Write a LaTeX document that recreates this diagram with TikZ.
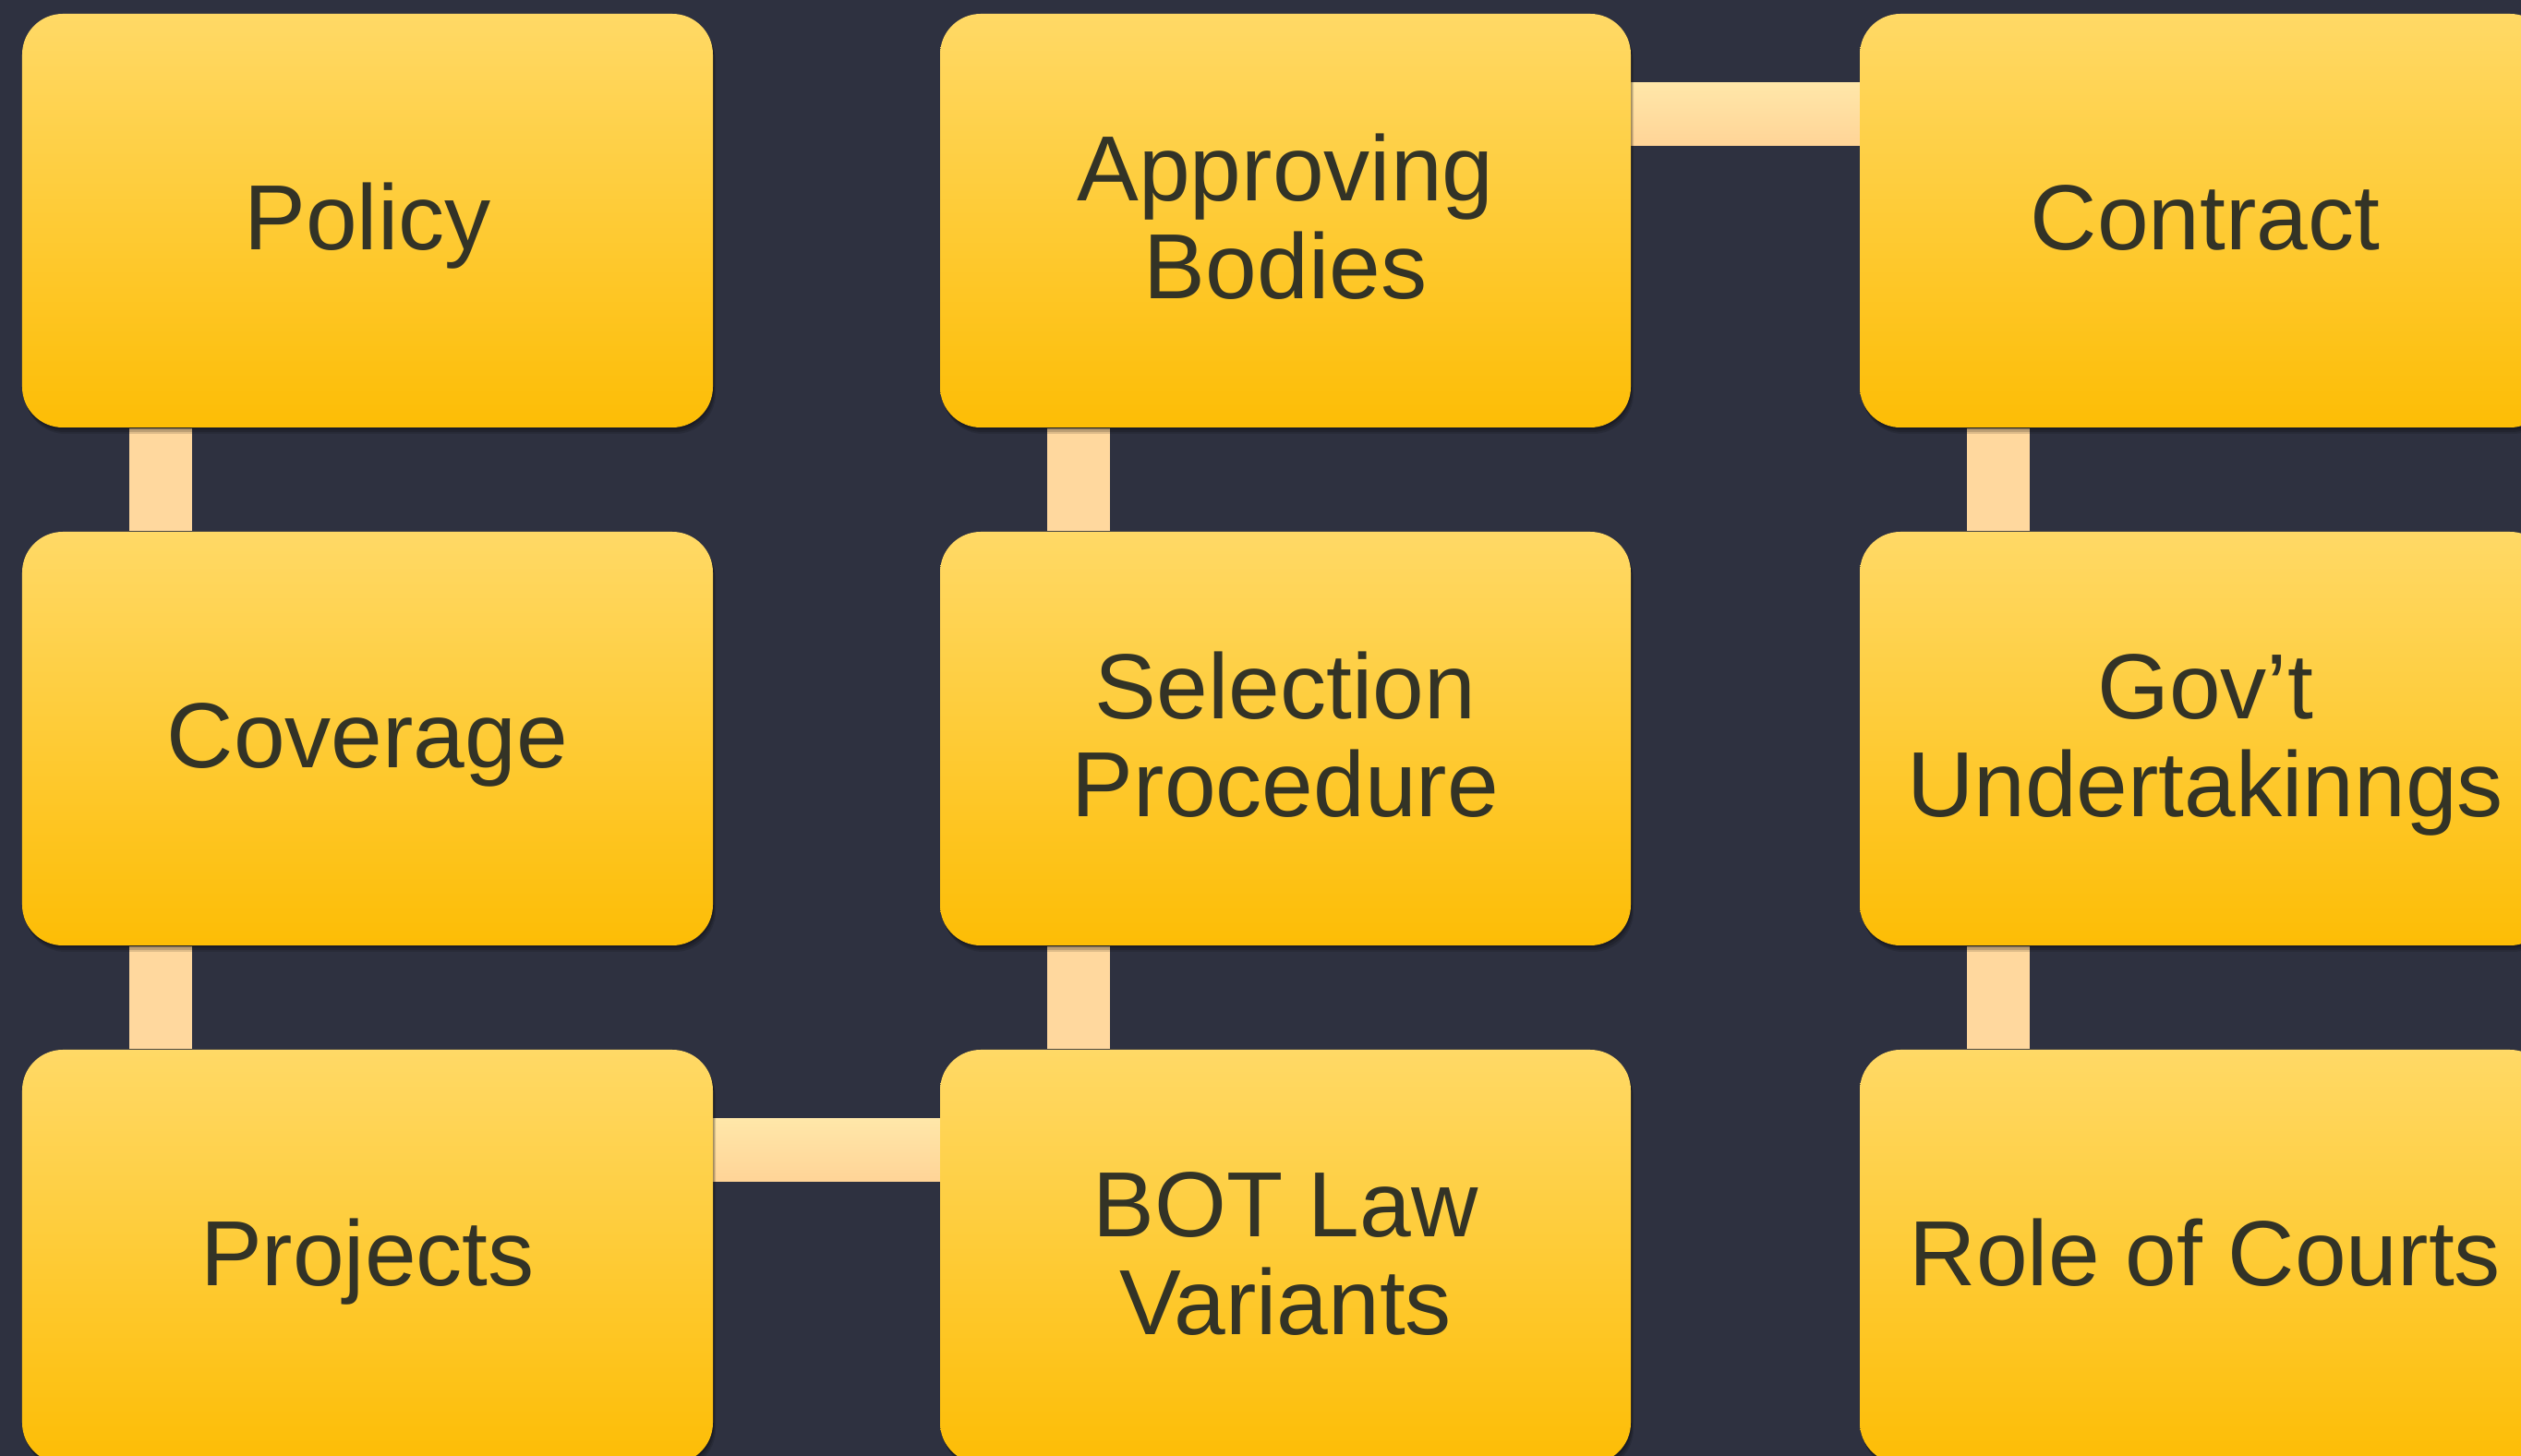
\documentclass[tikz,border=0pt]{standalone}
\usepackage{fontspec}
\setmainfont{Liberation Sans}
\usetikzlibrary{shadows,calc}
\pgfdeclarelayer{bg}
\pgfdeclarelayer{conn}
\pgfsetlayers{bg,conn,main}
\definecolor{bgc}{HTML}{2E3140}
\definecolor{boxtop}{HTML}{FFD966}
\definecolor{boxbot}{HTML}{FDBD05}
\definecolor{txt}{HTML}{333326}
\definecolor{connv}{HTML}{FFD89E}
\definecolor{conntop}{HTML}{FFE7A9}
\definecolor{connbot}{HTML}{FFD497}
\newcommand{\ls}{\vrule height 24pt depth 6pt width 0pt}
\begin{document}
\begin{tikzpicture}[
  box/.style={rectangle, rounded corners=0.44cm, minimum width=7.48cm, minimum height=4.48cm,
    inner sep=0pt, top color=boxtop, bottom color=boxbot, text=txt, align=center,
    font=\fontsize{28.5}{30}\selectfont,
    drop shadow={shadow xshift=0.03cm, shadow yshift=-0.07cm, opacity=0.12, fill=black},
    drop shadow={shadow xshift=0.02cm, shadow yshift=-0.05cm, opacity=0.15, fill=black},
    drop shadow={shadow xshift=0.01cm, shadow yshift=-0.025cm, opacity=0.2, fill=black}},
  vconn/.style={draw=connv, line width=0.68cm},
  hconn/.style={top color=conntop, bottom color=connbot},
]
\useasboundingbox (0,0) rectangle (27.3,-15.77);
\begin{pgfonlayer}{bg}
  \fill[bgc] (0,0) rectangle (27.3,-15.77);
\end{pgfonlayer}
\clip (0,0) rectangle (27.3,-15.77);

\node[box] (pol)  at (3.98,-2.39)  {\ls Policy};
\node[box] (cov)  at (3.98,-8.00)  {\ls Coverage};
\node[box] (proj) at (3.98,-13.61) {\ls Projects};
\node[box] (ab)   at (13.92,-2.39) {\ls Approving\\\ls Bodies};
\node[box] (sel)  at (13.92,-8.00) {\ls Selection\\\ls Procedure};
\node[box] (bot)  at (13.92,-13.61) {\ls BOT Law\\\ls Variants};
\node[box] (con)  at (23.88,-2.39) {\ls Contract};
\node[box] (gov)  at (23.88,-8.00) {\ls Gov’t\\\ls Undertakinngs};
\node[box] (roc)  at (23.88,-13.61) {\ls Role of Courts};

\begin{pgfonlayer}{conn}
  \draw[vconn] ([xshift=1.51cm]pol.south west) -- ([xshift=1.51cm]cov.north west);
  \draw[vconn] ([xshift=1.51cm]cov.south west) -- ([xshift=1.51cm]proj.north west);
  \draw[vconn] ([xshift=1.51cm]ab.south west) -- ([xshift=1.51cm]sel.north west);
  \draw[vconn] ([xshift=1.51cm]sel.south west) -- ([xshift=1.51cm]bot.north west);
  \draw[vconn] ([xshift=1.51cm]con.south west) -- ([xshift=1.51cm]gov.north west);
  \draw[vconn] ([xshift=1.51cm]gov.south west) -- ([xshift=1.51cm]roc.north west);
  \path[hconn] ($(ab.north east)+(-0.05,-0.75)$) rectangle ($(con.north west)+(0.05,-1.43)$);
  \path[hconn] ($(proj.north east)+(-0.05,-0.75)$) rectangle ($(bot.north west)+(0.05,-1.43)$);
\end{pgfonlayer}
\end{tikzpicture}
\end{document}
